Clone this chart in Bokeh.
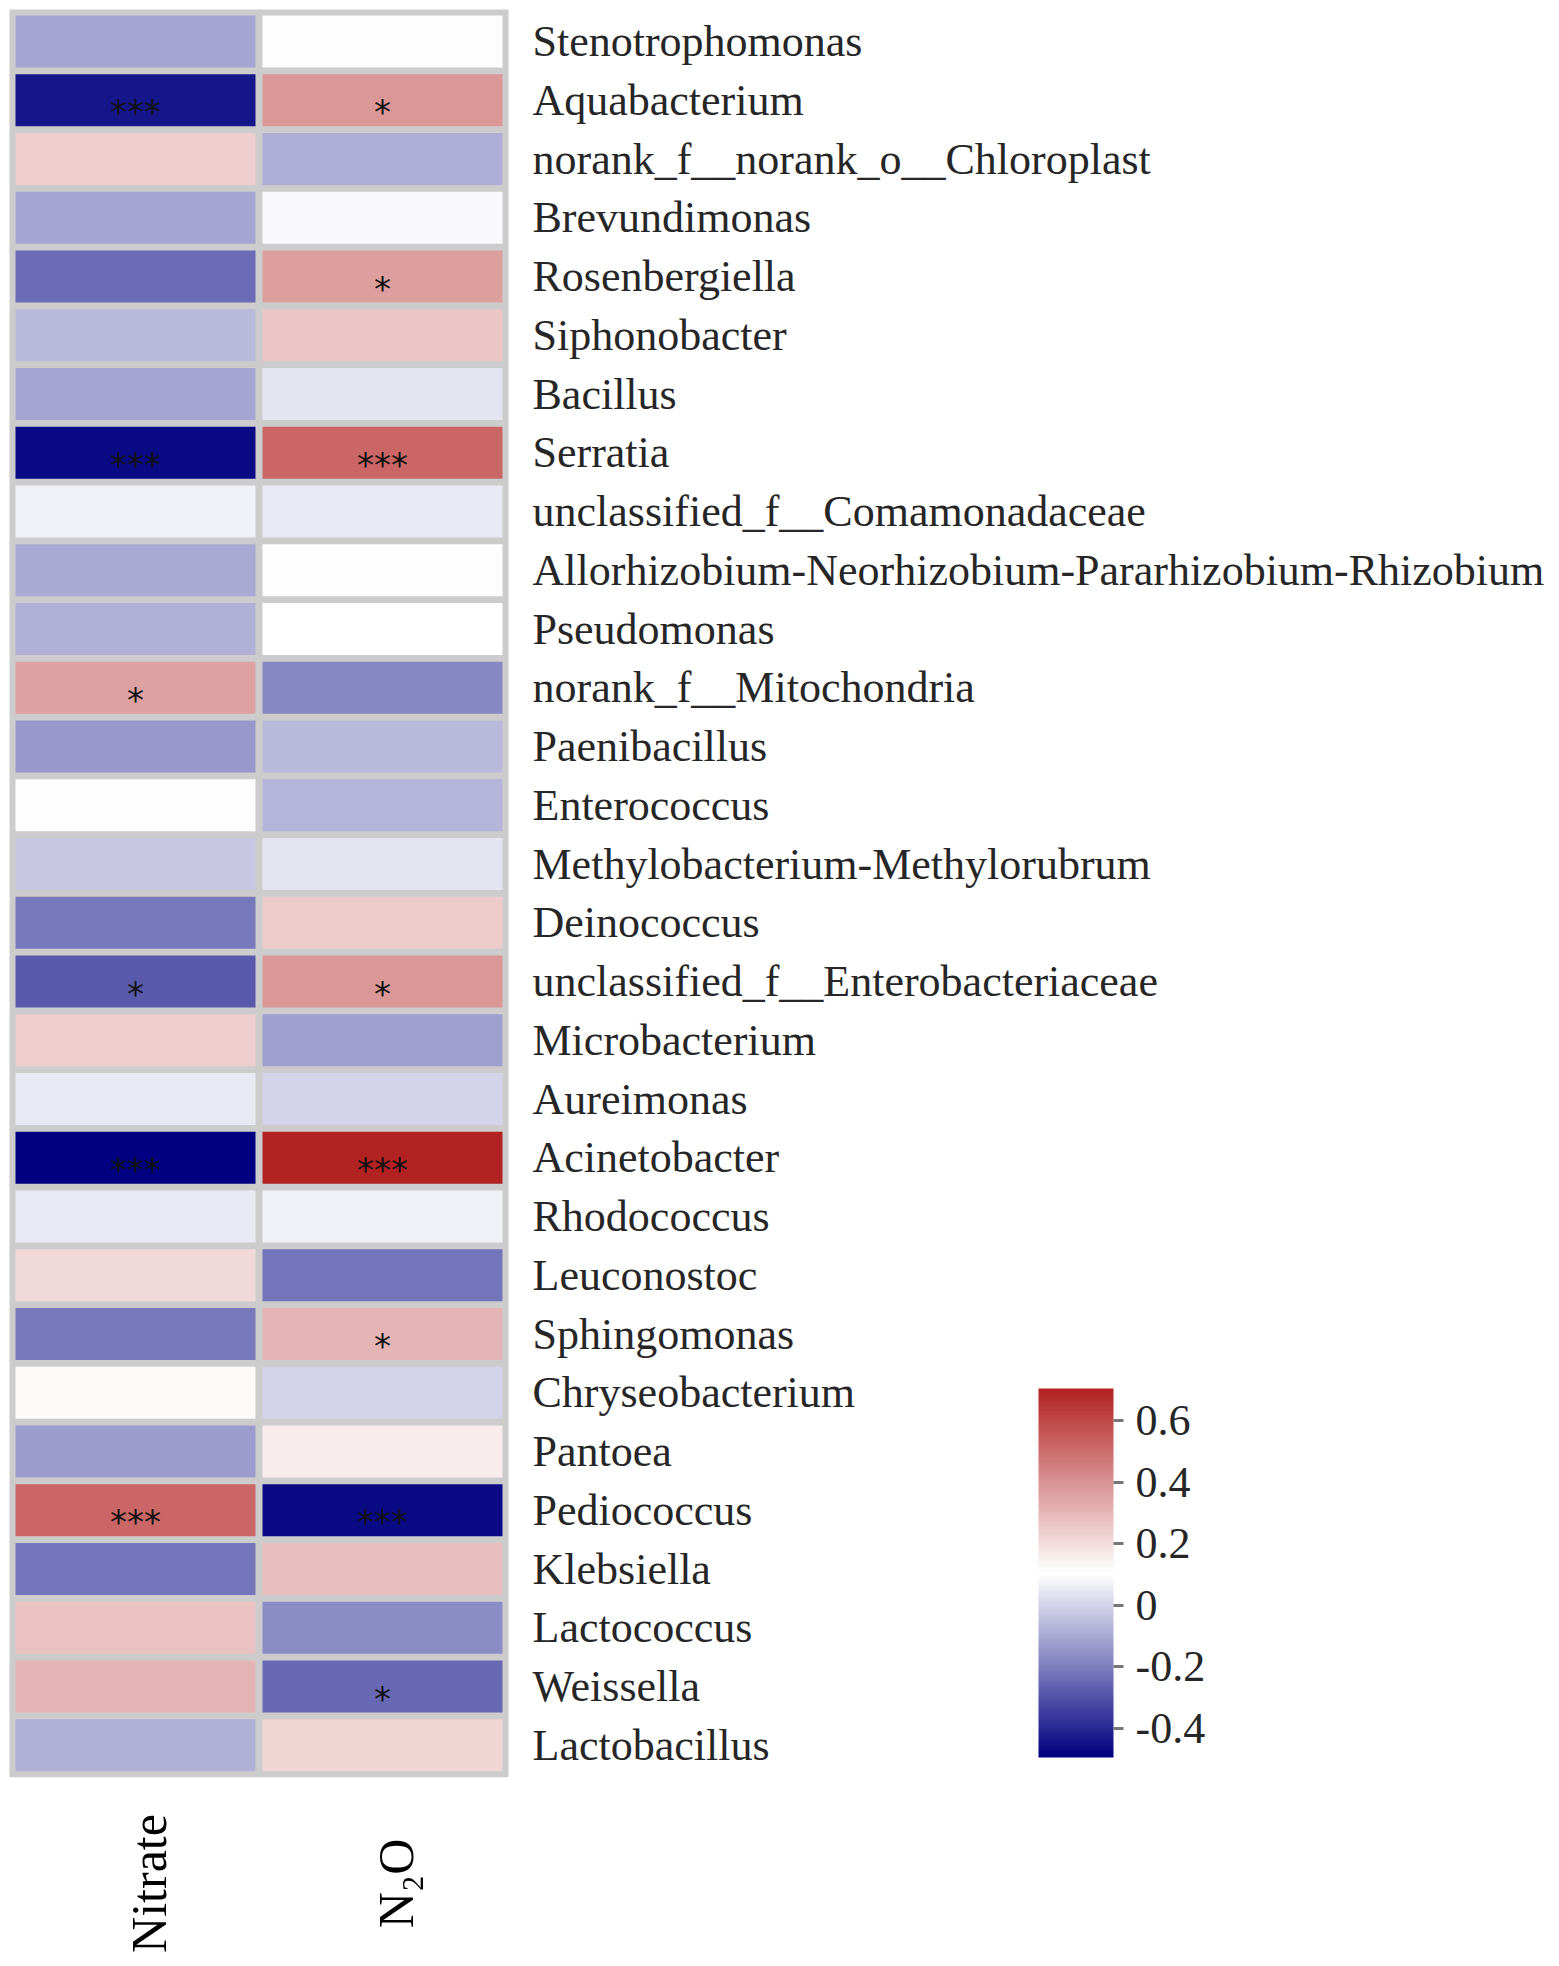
import numpy as np
from bokeh.plotting import figure
from bokeh.models import (ColumnDataSource, LinearColorMapper, ColorBar, FixedTicker,
                          CustomJSTickFormatter, Range1d)
from bokeh.core.properties import value
from bokeh.embed import file_html
from bokeh.resources import INLINE

# ---------------- data ----------------
genera = [
    "Stenotrophomonas", "Aquabacterium", "norank_f__norank_o__Chloroplast", "Brevundimonas",
    "Rosenbergiella", "Siphonobacter", "Bacillus", "Serratia", "unclassified_f__Comamonadaceae",
    "Allorhizobium-Neorhizobium-Pararhizobium-Rhizobium", "Pseudomonas", "norank_f__Mitochondria",
    "Paenibacillus", "Enterococcus", "Methylobacterium-Methylorubrum", "Deinococcus",
    "unclassified_f__Enterobacteriaceae", "Microbacterium", "Aureimonas", "Acinetobacter",
    "Rhodococcus", "Leuconostoc", "Sphingomonas", "Chryseobacterium", "Pantoea", "Pediococcus",
    "Klebsiella", "Lactococcus", "Weissella", "Lactobacillus",
]
variables = ["Nitrate", "N\u2082O"]

nitrate = [-0.11, -0.44, 0.24, -0.11, -0.24, -0.06, -0.11, -0.47, 0.07, -0.10,
           -0.08, 0.36, -0.14, 0.11, -0.03, -0.21, -0.28, 0.24, 0.05, -0.494,
           0.05, 0.21, -0.21, 0.12, -0.13, 0.52, -0.22, 0.27, 0.31, -0.08]
n2o = [0.11, 0.39, -0.09, 0.09, 0.37, 0.26, 0.04, 0.52, 0.05, 0.10,
       0.105, -0.18, -0.06, -0.07, 0.04, 0.25, 0.39, -0.12, 0.00, 0.704,
       0.07, -0.22, 0.31, 0.00, 0.16, -0.47, 0.28, -0.17, -0.25, 0.22]

sig_nitrate = ["", "***", "", "", "", "", "", "***", "", "",
               "", "*", "", "", "", "", "*", "", "", "***",
               "", "", "", "", "", "***", "", "", "", ""]
sig_n2o = ["", "*", "", "", "*", "", "", "***", "", "",
           "", "", "", "", "", "", "*", "", "", "***",
           "", "", "*", "", "", "***", "", "", "*", ""]

cbar_ticks = [-0.4, -0.2, 0, 0.2, 0.4, 0.6]

# ---------------- layout helpers (reference pixel -> data) ----------------
W, H = 1551, 1958
COL0, COLP = 135, 247.0     # px of first column centre, column pitch
ROW0, ROWP = 41, 58.75      # px of first row centre, row pitch

def fx(px):
    return (px - COL0) / COLP

def fy(py):
    return (py - ROW0) / ROWP

# ---------------- colours ----------------
def lerp(c1, c2, t):
    return "#%02x%02x%02x" % tuple(int(round(a + (b - a) * t)) for a, b in zip(c1, c2))

navy, white, red = (0, 0, 128), (255, 255, 255), (178, 34, 34)
palette = [lerp(navy, white, i / 127) for i in range(128)] + \
          [lerp(white, red, i / 127) for i in range(128)]

allv = nitrate + n2o
mapper = LinearColorMapper(palette=palette, low=min(allv), high=max(allv))

n = len(genera)
xs, ys, vals, sigs = [], [], [], []
for j, (col, sg) in enumerate([(nitrate, sig_nitrate), (n2o, sig_n2o)]):
    for i in range(n):
        xs.append(j)
        ys.append(i)
        vals.append(col[i])
        sigs.append(sg[i])
src = ColumnDataSource(dict(x=xs, y=ys, v=vals, s=sigs,
                            sy=[y + 12 / ROWP for y in ys]))

p = figure(width=W, height=H, output_backend="svg", toolbar_location=None,
           x_range=Range1d(-COL0 / COLP, (W - COL0) / COLP),
           y_range=Range1d((H - ROW0) / ROWP, -ROW0 / ROWP),
           min_border=0, outline_line_color=None, background_fill_color="white")
p.axis.visible = False
p.grid.visible = False

ncol = len(variables)
padx, pady = 2.5 / COLP, 2.6 / ROWP
p.quad(left=[-0.5 - padx], right=[ncol - 0.5 + padx],
       top=[-0.5 - pady], bottom=[n - 0.5 + pady],
       fill_color="#cccccc", line_color=None)

p.rect(x="x", y="y", width=240 / COLP, height=52 / ROWP, source=src,
       fill_color={"field": "v", "transform": mapper}, line_color=None)

p.text(x="x", y="sy", text="s", source=src, text_align="center",
       text_baseline="middle", text_font=value("DejaVu Sans"),
       text_font_size="34px", text_color="#111111")

# row labels
p.text(x=[fx(532)] * n, y=list(range(n)), text=genera,
       text_font=value("Liberation Serif"), text_font_size="44px",
       text_align="left", text_baseline="middle", text_color="#262626")

# column labels
p.text(x=list(range(ncol)), y=[fy(1883)] * ncol, text=variables, angle=np.pi / 2,
       x_offset=13, text_font=value("Liberation Serif"), text_font_size="50px",
       text_align="center", text_baseline="middle", text_color="black")

cb = ColorBar(color_mapper=mapper, width=75, height=369,
              location=(1038 - 10, (H - 1757) - 10),
              ticker=FixedTicker(ticks=cbar_ticks),
              formatter=CustomJSTickFormatter(code="return tick == 0 ? '0' : tick.toFixed(1);"),
              major_tick_out=10, major_tick_in=0, major_tick_line_color="#777777",
              major_tick_line_width=3, minor_tick_line_color=None,
              label_standoff=12, major_label_text_font="Liberation Serif",
              major_label_text_font_size="44px", major_label_text_color="#262626",
              bar_line_color=None, border_line_color=None, background_fill_alpha=0,
              padding=10)
p.add_layout(cb, "center")

open("out.html", "w").write(file_html(p, INLINE))
